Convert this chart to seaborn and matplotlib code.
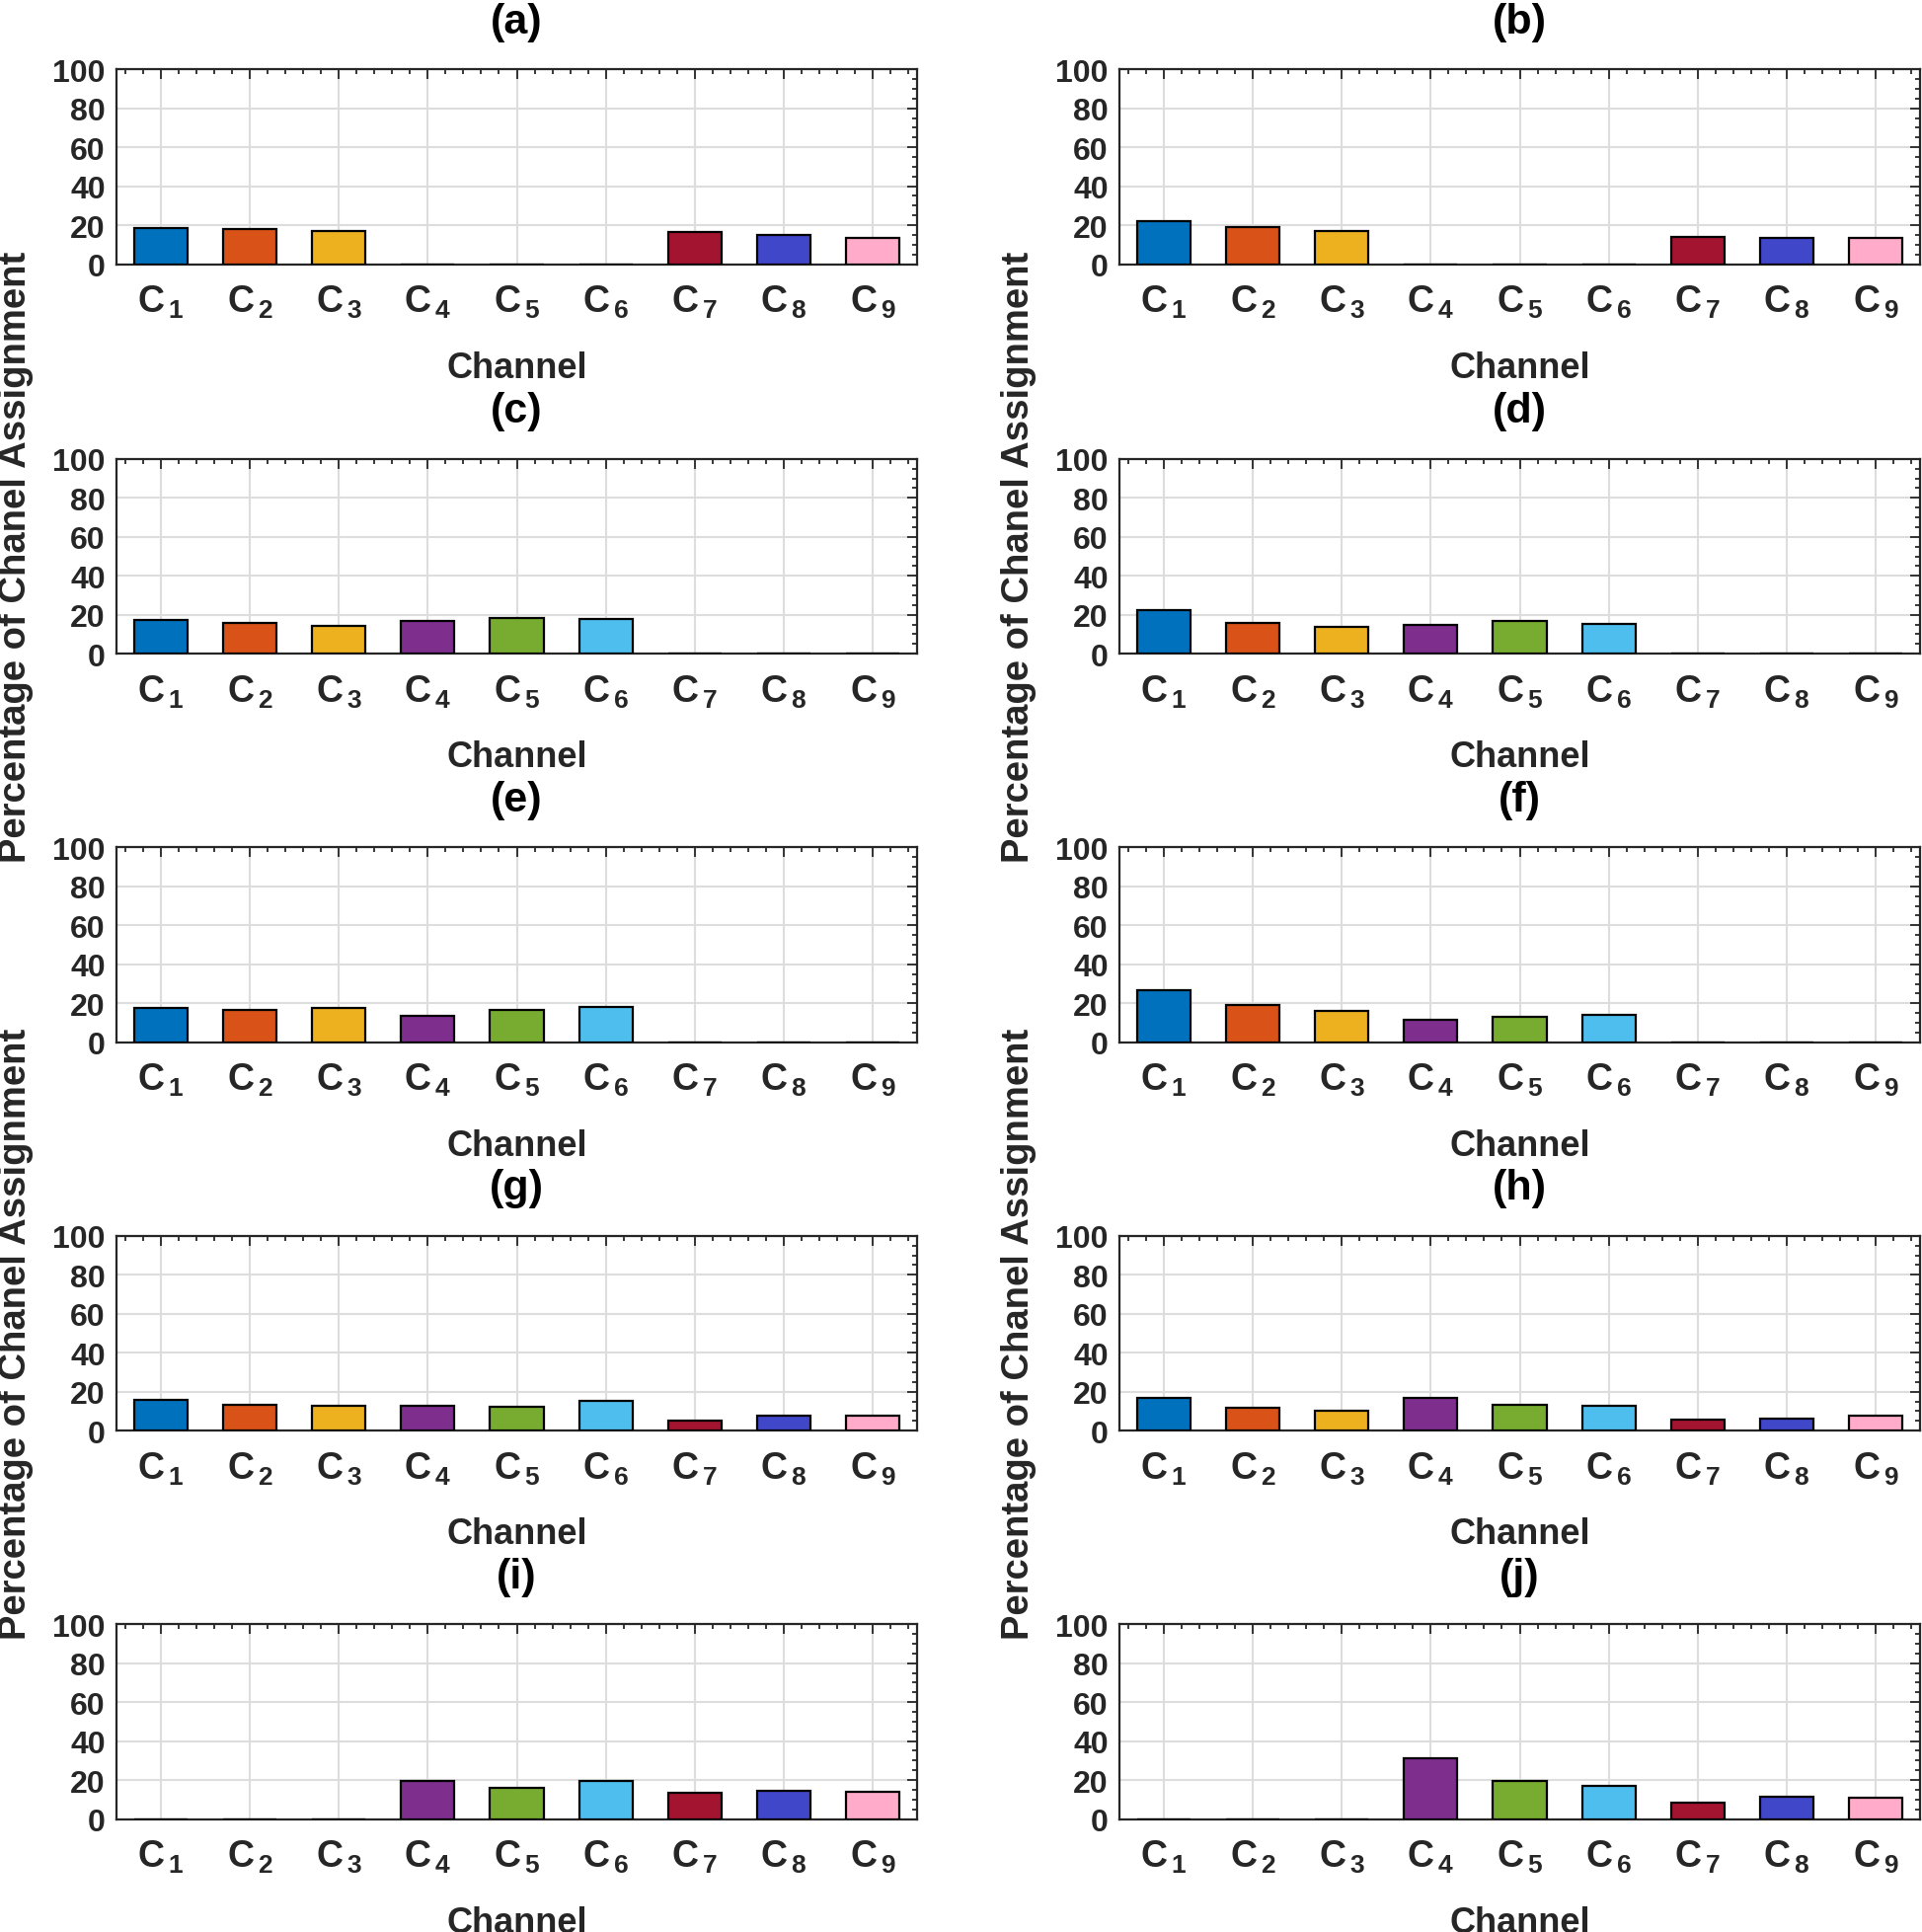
import matplotlib
matplotlib.use("Agg")
import matplotlib.pyplot as plt
import pandas as pd
import seaborn as sns
from matplotlib.ticker import MultipleLocator

sns.set_style("white")
plt.rcParams['font.family'] = ['Liberation Sans', 'DejaVu Sans']
plt.rcParams['font.weight'] = 'bold'
plt.rcParams['mathtext.fontset'] = 'custom'
plt.rcParams['mathtext.rm'] = 'Liberation Sans:bold'
plt.rcParams['mathtext.bf'] = 'Liberation Sans:bold'
plt.rcParams['mathtext.it'] = 'Liberation Sans:bold'

# channels and labels
channels = ["C1", "C2", "C3", "C4", "C5", "C6", "C7", "C8", "C9"]
tick_labels = [r"$\mathbf{C}_{\,\mathbf{1}}$", r"$\mathbf{C}_{\,\mathbf{2}}$", r"$\mathbf{C}_{\,\mathbf{3}}$",
               r"$\mathbf{C}_{\,\mathbf{4}}$", r"$\mathbf{C}_{\,\mathbf{5}}$", r"$\mathbf{C}_{\,\mathbf{6}}$",
               r"$\mathbf{C}_{\,\mathbf{7}}$", r"$\mathbf{C}_{\,\mathbf{8}}$", r"$\mathbf{C}_{\,\mathbf{9}}$"]
bar_colors = ["#0072BD", "#D95319", "#EDB120", "#7E2F8E", "#77AC30",
              "#4DBEEE", "#A2142F", "#4147C9", "#FFABC9"]

# percentage of channel assignment per panel
panel_a = [18.3, 18.0, 16.9, 0, 0, 0, 16.4, 14.7, 13.2]
panel_b = [22.2, 18.8, 16.9, 0, 0, 0, 13.9, 13.2, 13.2]
panel_c = [17.3, 15.6, 14.2, 16.8, 18.6, 17.8, 0, 0, 0]
panel_d = [22.2, 15.9, 13.6, 14.6, 16.9, 15.1, 0, 0, 0]
panel_e = [17.8, 16.8, 17.8, 13.7, 16.8, 18.3, 0, 0, 0]
panel_f = [26.9, 19.3, 16.1, 11.7, 13.1, 14.1, 0, 0, 0]
panel_g = [15.6, 13.1, 12.9, 12.9, 12.0, 15.1, 4.9, 7.6, 7.6]
panel_h = [16.9, 11.5, 10.0, 16.6, 13.4, 12.9, 5.8, 6.3, 7.6]
panel_i = [0, 0, 0, 19.7, 16.1, 19.3, 13.2, 14.6, 13.9]
panel_j = [0, 0, 0, 31.4, 19.3, 16.8, 8.6, 11.5, 11.0]

panels = [panel_a, panel_b, panel_c, panel_d, panel_e,
          panel_f, panel_g, panel_h, panel_i, panel_j]
letters = ["(a)", "(b)", "(c)", "(d)", "(e)", "(f)", "(g)", "(h)", "(i)", "(j)"]
ylabel_panels = ["(c)", "(d)", "(g)", "(h)"]

W, H = 1947, 1958
fig = plt.figure(figsize=(W / 100, H / 100), dpi=100)

col_left = [118, 1134]
col_width = 811
row_bottom = [268.5, 663.2, 1056.7, 1450.1, 1843.5]
ax_height = 197.3

dark = "#262626"

for k, vals in enumerate(panels):
    r, c = k // 2, k % 2
    ax = fig.add_axes([col_left[c] / W, 1 - row_bottom[r] / H, col_width / W, ax_height / H])
    df = pd.DataFrame({"channel": channels, "value": vals})
    sns.barplot(data=df, x="channel", y="value", hue="channel", order=channels,
                palette=bar_colors, saturation=1, legend=False, width=0.6,
                edgecolor="black", linewidth=1.6, ax=ax, zorder=3)
    ax.set_xlim(-0.5, 8.5)
    ax.set_ylim(0, 100)
    ax.set_xticks(range(9))
    ax.set_xticklabels(tick_labels, fontsize=27, color=dark)
    ax.set_yticks([0, 20, 40, 60, 80, 100])
    ax.set_yticklabels(["0", "20", "40", "60", "80", "100"], fontsize=23, color=dark, fontweight="bold")
    ax.xaxis.set_minor_locator(MultipleLocator(0.2))
    ax.yaxis.set_minor_locator(MultipleLocator(5))
    ax.tick_params(which="both", direction="in", top=True, right=True, color=dark, width=1.3)
    ax.tick_params(which="major", length=7)
    ax.tick_params(which="minor", length=3.5)
    ax.tick_params(axis="x", which="major", pad=14)
    ax.tick_params(axis="y", which="major", pad=8)
    ax.grid(True, which="major", color="#dddddd", linewidth=1.5)
    ax.set_axisbelow(True)
    for s in ax.spines.values():
        s.set_color(dark)
        s.set_linewidth(1.6)
    ax.set_xlabel("Channel", fontsize=26, fontweight="bold", color=dark, labelpad=22)
    if letters[k] in ylabel_panels:
        ax.set_ylabel("Percentage of Chanel Assignment", fontsize=27.5, fontweight="bold", color=dark)
        ax.yaxis.set_label_coords(-0.104, 0.5)
    else:
        ax.set_ylabel("")
    ax.set_title(letters[k], fontsize=31, fontweight="bold", color="black", pad=27)

fig.savefig("out.png", dpi=100)
